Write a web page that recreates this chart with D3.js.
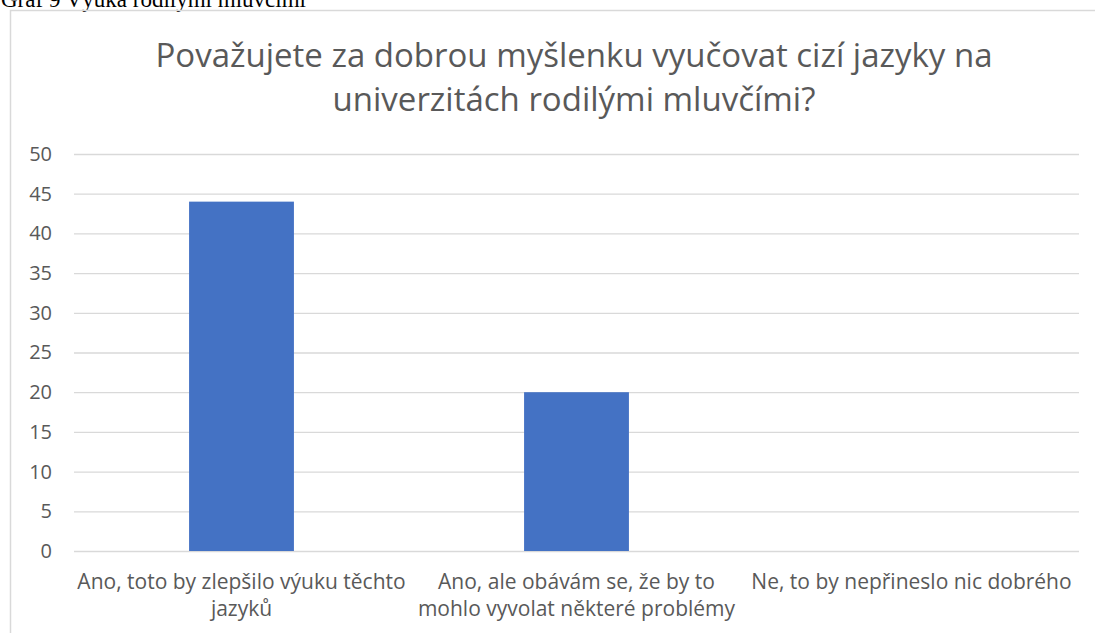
<!DOCTYPE html>
<html>
<head>
<meta charset="utf-8">
<script src="https://cdn.jsdelivr.net/npm/d3@7"></script>
<style>
  body { margin: 0; background: #fff; }
  svg { display: block; }
</style>
</head>
<body>
<div id="chart"></div>
<script>
const categories = [
  ["Ano, toto by zlepšilo výuku těchto", "jazyků"],
  ["Ano, ale obávám se, že by to", "mohlo vyvolat některé problémy"],
  ["Ne, to by nepřineslo nic dobrého"]
];
const values = [44, 20, 0];
const yTicks = [0, 5, 10, 15, 20, 25, 30, 35, 40, 45, 50];
const titleLines = [
  "Považujete za dobrou myšlenku vyučovat cizí jazyky na",
  "univerzitách rodilými mluvčími?"
];
const caption = "Graf 9 Výuka rodilými mluvčími";

const width = 1095, height = 633;
const font = "'Open Sans', 'Noto Sans', sans-serif";
const textColor = "#595959";

const svg = d3.select("#chart").append("svg")
  .attr("width", width)
  .attr("height", height);

// caption above the chart box, partly cut by the page top
svg.append("text")
  .attr("x", 1)
  .attr("y", 7)
  .attr("font-family", "'Liberation Serif', serif")
  .attr("font-size", 23)
  .attr("fill", "#000")
  .text(caption);

// chart box border
svg.append("rect")
  .attr("x", 10.5)
  .attr("y", 10.5)
  .attr("width", 1200)
  .attr("height", 700)
  .attr("fill", "none")
  .attr("stroke", "#d9d9d9")
  .attr("stroke-width", 1.5);

const x = d3.scaleBand()
  .domain(d3.range(categories.length))
  .range([74, 1079])
  .paddingInner(0.687)
  .paddingOuter(0.3435);

const y = d3.scaleLinear()
  .domain([0, 50])
  .range([551, 154]);

// title
svg.append("g").selectAll("text")
  .data(titleLines)
  .join("text")
  .attr("x", 574)
  .attr("y", (d, i) => 67 + i * 44)
  .attr("text-anchor", "middle")
  .attr("font-family", font)
  .attr("font-size", 33)
  .attr("fill", textColor)
  .text(d => d);

// gridlines + y labels
const yAxis = d3.axisLeft(y)
  .tickValues(yTicks)
  .tickSize(-(1079 - 74))
  .tickPadding(22);

const gy = svg.append("g")
  .attr("transform", "translate(74,0)")
  .call(yAxis);
gy.select(".domain").remove();
gy.selectAll(".tick line")
  .attr("stroke", "#d9d9d9")
  .attr("stroke-width", 1.3);
gy.selectAll(".tick text")
  .attr("font-family", font)
  .attr("font-size", 20)
  .attr("fill", textColor);

// bars
svg.append("g").selectAll("rect")
  .data(values)
  .join("rect")
  .attr("x", (d, i) => x(i))
  .attr("y", d => y(d))
  .attr("width", x.bandwidth())
  .attr("height", d => y(0) - y(d))
  .attr("fill", "#4472c4");

// category labels
const cat = svg.append("g").selectAll("text")
  .data(categories)
  .join("text")
  .attr("text-anchor", "middle")
  .attr("font-family", font)
  .attr("font-size", 21)
  .attr("fill", textColor);
cat.selectAll("tspan")
  .data((d, i) => d.map(line => ({ line, i })))
  .join("tspan")
  .attr("x", d => x(d.i) + x.bandwidth() / 2)
  .attr("y", (d, j) => 589 + j * 27)
  .text(d => d.line);
</script>
</body>
</html>
